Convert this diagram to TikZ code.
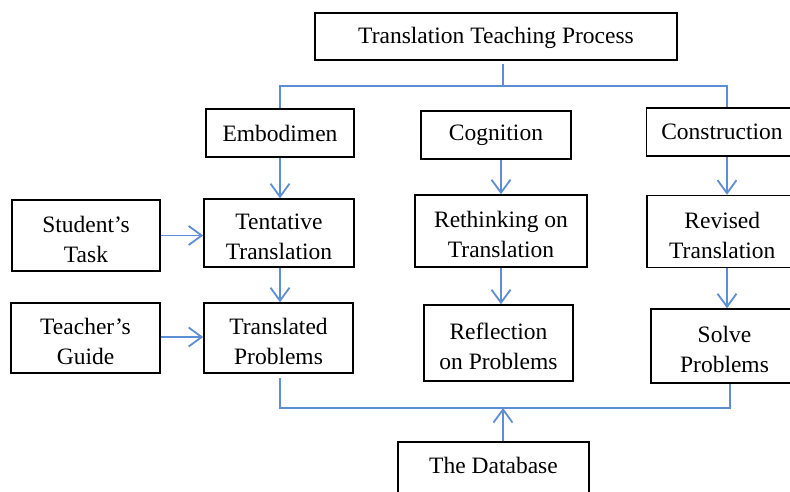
\documentclass[tikz,border=0pt]{standalone}
\usepackage{fontspec}
\setmainfont{Liberation Serif}
\usetikzlibrary{arrows.meta}
\definecolor{conn}{RGB}{92,142,214}
\newcommand\tstrut{\rule{0pt}{24pt}}
\begin{document}
\begin{tikzpicture}[x=1pt,y=-1pt,
  box/.style={draw=black,line width=1.6pt,align=center,inner sep=0pt,
    font=\fontsize{23.5}{30}\selectfont},
  link/.style={draw=conn,line width=1.8pt},
  arr/.style={link,-{Straight Barb[length=13pt,width=19pt,line width=1.8pt]}}]
\useasboundingbox (0,0) rectangle (790,491);
\clip (0,0) rectangle (790,491);
\fill[white] (0,0) rectangle (790,491);
% boxes
\node[box,minimum width=362pt,minimum height=47pt] (top) at (496,36.5) {\rule{0pt}{20pt}Translation Teaching Process};
\node[box,minimum width=148pt,minimum height=48pt] (emb) at (280,133) {Embodimen};
\node[box,minimum width=150pt,minimum height=48pt] (cog) at (496,135) {Cognition};
\node[box,minimum width=151pt,minimum height=48pt] (con) at (722,132) {Construction};
\node[box,minimum width=148pt,minimum height=71pt] (stu) at (86,235.5) {\tstrut Student’s\\Task};
\node[box,minimum width=150pt,minimum height=68pt] (ten) at (279,233) {\tstrut Tentative\\Translation};
\node[box,minimum width=172pt,minimum height=72pt] (ret) at (501,231) {\tstrut Rethinking on\\Translation};
\node[box,minimum width=151pt,minimum height=72pt] (rev) at (722.3,231.5) {\tstrut Revised\\Translation};
\node[box,minimum width=149pt,minimum height=70pt] (tea) at (85.5,338) {\tstrut Teacher’s\\Guide};
\node[box,minimum width=149pt,minimum height=70pt] (tra) at (278.5,338) {\tstrut Translated\\Problems};
\node[box,minimum width=149pt,minimum height=76pt] (ref) at (498.5,343) {\tstrut Reflection\\on Problems};
\node[box,minimum width=147pt,minimum height=74pt] (sol) at (724.5,346) {\tstrut Solve\\Problems};
\node[box,minimum width=191pt,minimum height=76pt] (db) at (493.5,480) {The Database\\\mbox{}};
% junctions
\coordinate (jt) at (503,86);
\coordinate (jl) at (280,86);
\coordinate (jr) at (727,86);
\coordinate (bl) at (280,408);
\coordinate (br) at (730,408);
\coordinate (jb) at (503,408);
% top tree
\draw[link,shorten <=3pt] (top.south -| jt) -- (jt);
\draw[link] (jl |- emb.north) -- (jl) -- (jr) -- (jr |- con.north);
% column arrows
\draw[arr] (emb.south -| jl) -- (jl |- ten.north);
\draw[arr] (stu.east) -- (stu.east -| ten.west);
\draw[arr] (ten.south -| jl) -- (jl |- tra.north);
\draw[arr] (tea.east |- 0,337) -- (tra.west |- 0,337);
\draw[arr] (ret.north |- cog.south) -- (ret.north);
\draw[arr] (ret.south) -- (ret.south |- ref.north);
\draw[arr] (jr |- con.south) -- (jr |- rev.north);
\draw[arr] (jr |- rev.south) -- (jr |- sol.north);
% bottom tree
\draw[link,shorten <=4pt] (bl |- tra.south) -- (bl) -- (br) -- (br |- sol.south);
\draw[arr] (jb |- db.north) -- (jb);
\end{tikzpicture}
\end{document}
